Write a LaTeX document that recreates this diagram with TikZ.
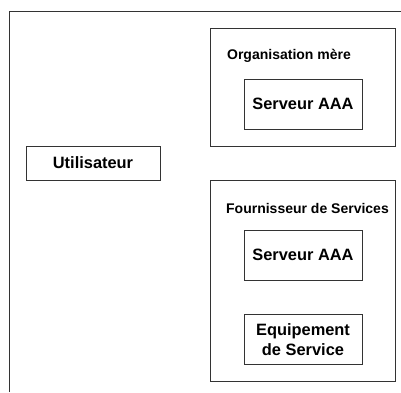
\documentclass[tikz,border=0pt]{standalone}
\usepackage{fontspec}
\setmainfont{Liberation Sans}
\usepackage{tikz}
\usetikzlibrary{
  positioning,
  backgrounds
}

\tikzset{
  boite/.style={draw=black!80, line width=0.8pt, inner sep=0pt, align=center,
    font=\bfseries\fontsize{16.4}{20}\selectfont},
  domaine/.style={draw=black!80, line width=0.8pt, inner sep=0pt,
    minimum width=185pt},
  titre/.style={inner sep=0pt, font=\bfseries\fontsize{14}{16}\selectfont}
}

\begin{document}
\begin{tikzpicture}[x=1pt,y=-1pt]
\useasboundingbox (0,0) rectangle (401,392);
% cadre general
\draw[black!80, line width=0.8pt] (9,392) |- (401,11);

\node (Utilisateur) [boite, minimum width=134pt, minimum height=34pt] at (93,163) {Utilisateur};

% organisation mere
\node (org) [domaine, minimum height=118pt] at (302.5,87) {};
\node (orgTitre) [titre] at (289,56) {Organisation mère};
\node (aaaOrg) [boite, minimum width=118pt, minimum height=50pt] at (303,104) {Serveur AAA};

% fournisseur de services
\node (fs) [domaine, minimum height=201pt] at (302.5,280.5) {};
\node (fsTitre) [titre] at (307.5,208) {Fournisseur de Services};
\node (aaaFs) [boite, minimum width=118pt, minimum height=50pt] at (303,255) {Serveur AAA};
\node (equip) [boite, minimum width=118pt, minimum height=50pt, below=34pt of aaaFs] {Equipement\\de Service};
\end{tikzpicture}
\end{document}
